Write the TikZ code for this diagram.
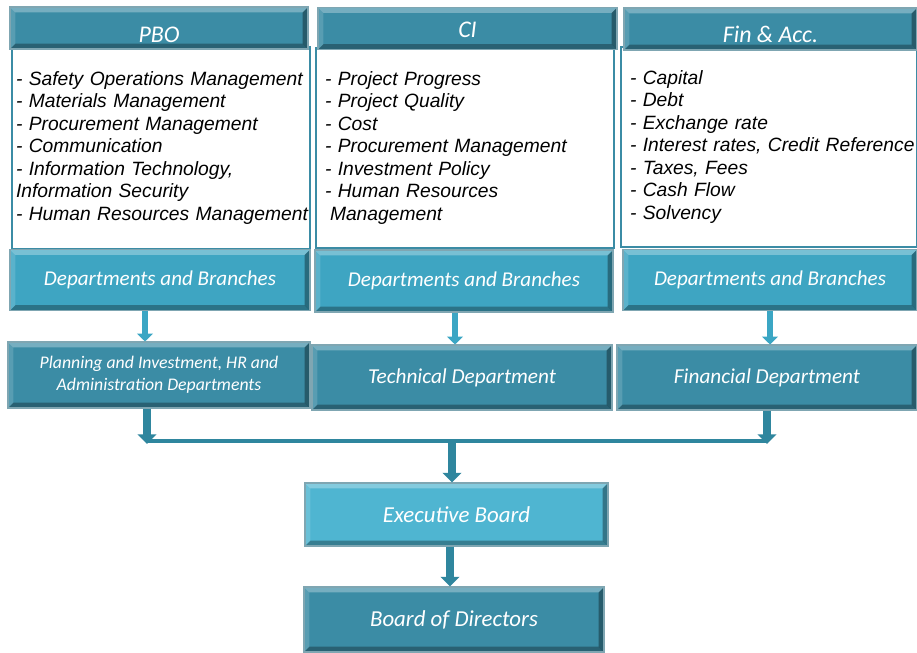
\documentclass[tikz,border=0pt]{standalone}
\usepackage{fontspec}
\setmainfont{Carlito}
\newfontfamily\listfont{Liberation Sans}
\usetikzlibrary{arrows.meta}
\definecolor{hdcol}{HTML}{3B8CA5}
\definecolor{deptcol}{HTML}{3EA5C2}
\definecolor{execcol}{HTML}{4FB5D1}
\definecolor{rimcol}{HTML}{2A6A7E}
\definecolor{upcol}{HTML}{3BA6C4}
\definecolor{downcol}{HTML}{2F869E}
\begin{document}
\begin{tikzpicture}[
    bevel/.style={path picture={
        \path (path picture bounding box.north west) coordinate (bvnw)
              (path picture bounding box.north east) coordinate (bvne)
              (path picture bounding box.south west) coordinate (bvsw)
              (path picture bounding box.south east) coordinate (bvse);
        \fill[white, opacity=0.3] (bvnw) -- (bvne) -- ([shift={(-3pt,-3pt)}]bvne) -- ([shift={(3pt,-3pt)}]bvnw) -- cycle;
        \fill[white, opacity=0.15] (bvnw) -- (bvsw) -- ([shift={(3pt,3pt)}]bvsw) -- ([shift={(3pt,-3pt)}]bvnw) -- cycle;
        \fill[black, opacity=0.3] (bvsw) -- (bvse) -- ([shift={(-3pt,3pt)}]bvse) -- ([shift={(3pt,3pt)}]bvsw) -- cycle;
        \fill[black, opacity=0.35] (bvne) -- (bvse) -- ([shift={(-3pt,3pt)}]bvse) -- ([shift={(-3pt,-3pt)}]bvne) -- cycle;
    }},
    box/.style={draw=rimcol!60, line width=0.6pt, text=white, align=center, bevel,
        font=\fontsize{12.1}{14}\selectfont\itshape, inner sep=2pt},
    head/.style={box, fill=hdcol, minimum height=0.84cm, inner ysep=0pt, text depth=0.1cm,
        font=\fontsize{13.6}{15}\selectfont\itshape},
    dept/.style={box, fill=deptcol, minimum height=1.22cm, font=\fontsize{12}{14}\selectfont\itshape},
    unit/.style={box, fill=hdcol, minimum height=1.3cm},
    list/.style={draw=hdcol, line width=1.2pt, fill=white, align=left,
        font=\listfont\fontsize{10.95}{12.8}\selectfont\itshape, inner ysep=2pt},
    uparr/.style={draw=upcol, line width=3.6pt, -{Triangle[width=9pt,length=4.5pt]}},
    dnarr/.style={draw=downcol, line width=4.4pt, -{Triangle[width=10.5pt,length=5.5pt]}},
    bar/.style={draw=downcol, line width=2.4pt}
]
\useasboundingbox (0,0) rectangle (18.34,-13.04);

% PBO column
\node[list, minimum width=5.96cm, minimum height=4.04cm, inner xsep=0.08cm, text width=5.8cm] (pbolist) at (3.22,-2.96) {%
\mbox{- Safety Operations Management}\\
- Materials Management\\
- Procurement Management\\
- Communication\\
- Information Technology,\\
Information Security\\
\mbox{- Human Resources Management}};
\node[head, minimum width=5.96cm, text height=0.69cm] (pbo) at (3.18,-0.56) {PBO};
\node[dept, minimum width=6.0cm] (pbodept) at (3.2,-5.6) {Departments and Branches};

% CI column
\node[list, minimum width=5.96cm, minimum height=4.0cm, inner xsep=0.18cm, text width=5.6cm] (cilist) at (9.3,-2.96) {%
- Project Progress\\
- Project Quality\\
- Cost\\
\mbox{- Procurement Management}\\
- Investment Policy\\
- Human Resources\\
\hspace{0.1cm}Management};
\node[head, minimum width=5.98cm, text height=0.47cm] (ci) at (9.35,-0.57) {CI};
\node[dept, minimum width=5.96cm, minimum height=1.24cm] (cidept) at (9.28,-5.62) {Departments and Branches};

% Fin & Acc. column
\node[list, minimum width=5.92cm, minimum height=4.0cm, inner xsep=0.18cm, text width=5.56cm] (finlist) at (15.38,-2.94) {%
- Capital\\
- Debt\\
- Exchange rate\\
\mbox{- Interest rates, Credit Reference}\\
- Taxes, Fees\\
- Cash Flow\\
- Solvency};
\node[head, minimum width=5.86cm, text height=0.65cm] (fin) at (15.41,-0.58) {Fin \& Acc.};
\node[dept, minimum width=5.88cm] (findept) at (15.4,-5.6) {Departments and Branches};

% Departments
\node[unit, minimum width=6.04cm, minimum height=1.32cm,
      font=\fontsize{10.1}{12.5}\selectfont\itshape] (plan) at (3.18,-7.5)
      {Planning and Investment, HR and\\Administration Departments};
\node[unit, minimum width=6.0cm] (tech) at (9.24,-7.55) {Technical Department};
\node[unit, minimum width=6.0cm] (finance) at (15.34,-7.55) {Financial Department};

% Boards
\node[box, fill=execcol, minimum width=6.06cm, minimum height=1.26cm,
      font=\fontsize{13}{15}\selectfont\itshape] (exec) at (9.13,-10.29) {Executive Board};
\node[unit, minimum width=6.0cm, font=\fontsize{13}{15}\selectfont\itshape] (board) at (9.08,-12.39) {Board of Directors};

% Arrows from the columns
\draw[uparr] ([xshift=-0.3cm]pbodept.south) -- ([xshift=-0.3cm]pbodept.south |- plan.north);
\draw[uparr] ([xshift=-0.18cm]cidept.south) -- ([xshift=-0.18cm]cidept.south |- tech.north);
\draw[uparr] (findept.south) -- (findept.south |- finance.north);

% Joining line
\coordinate (bus) at (9.04,-8.82);
\coordinate (pl) at ([xshift=-0.24cm]plan.south);
\coordinate (fi) at (finance.south);
\draw[bar] (pl |- bus) -- (fi |- bus);
\draw[dnarr] (pl) -- ([yshift=-0.06cm]pl |- bus);
\draw[dnarr] (fi) -- ([yshift=-0.06cm]fi |- bus);
\draw[dnarr] (bus) -- (bus |- exec.north);
\draw[dnarr] ([xshift=-0.13cm]exec.south) -- ([xshift=-0.13cm]exec.south |- board.north);
\end{tikzpicture}
\end{document}
